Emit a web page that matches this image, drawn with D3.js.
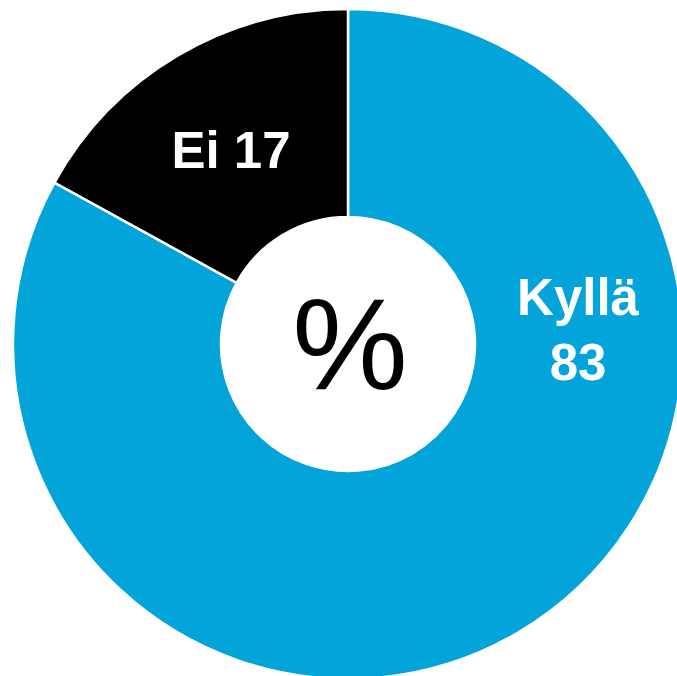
<!doctype html>
<html>
<head>
<meta charset="utf-8">
<title>Kyllä / Ei</title>
<script src="https://cdn.jsdelivr.net/npm/d3@7"></script>
<style>
  html, body { margin: 0; padding: 0; background: #fff; }
  svg { display: block; }
</style>
</head>
<body>
<svg width="677" height="676"></svg>
<script>
var categories = ["Kyllä", "Ei"];
var values = [83, 17];
var colors = ["#02A4DA", "#000000"];

var svg = d3.select("svg"),
    cx = 348, cy = 344,
    outerR = 335, innerR = 127;

var g = svg.append("g").attr("transform", "translate(" + cx + "," + cy + ")");

var data = categories.map(function(c, i) { return { name: c, value: values[i], color: colors[i] }; });

var pie = d3.pie().sort(null).value(function(d) { return d.value; });
var arc = d3.arc().innerRadius(innerR).outerRadius(outerR);
var labelArc = d3.arc().innerRadius(226).outerRadius(226);

var arcs = pie(data);

g.selectAll("path")
    .data(arcs)
    .enter().append("path")
    .attr("d", arc)
    .attr("fill", function(d) { return d.data.color; })
    .attr("stroke", "#fff")
    .attr("stroke-width", 2.5);

var font = "'Liberation Sans', Arial, sans-serif";

// Ei label sits on its slice centroid
var ei = arcs[1];
var p = labelArc.centroid(ei);
g.append("text")
    .attr("x", p[0] - 2)
    .attr("y", p[1] + 19)
    .attr("text-anchor", "middle")
    .attr("font-family", font)
    .attr("font-weight", "bold")
    .attr("font-size", 51)
    .attr("fill", "#fff")
    .text(ei.data.name + " " + ei.data.value);

// Kyllä label placed to the right side
var ky = arcs[0];
var kt = g.append("text")
    .attr("text-anchor", "middle")
    .attr("font-family", font)
    .attr("font-weight", "bold")
    .attr("font-size", 51)
    .attr("fill", "#fff");
kt.append("tspan").attr("x", 230).attr("y", -29).text(ky.data.name);
kt.append("tspan").attr("x", 230).attr("y", 36).text(ky.data.value);

g.append("text")
    .attr("x", 2)
    .attr("y", 45)
    .attr("text-anchor", "middle")
    .attr("font-family", font)
    .attr("font-size", 130)
    .attr("fill", "#000")
    .text("%");
</script>
</body>
</html>
